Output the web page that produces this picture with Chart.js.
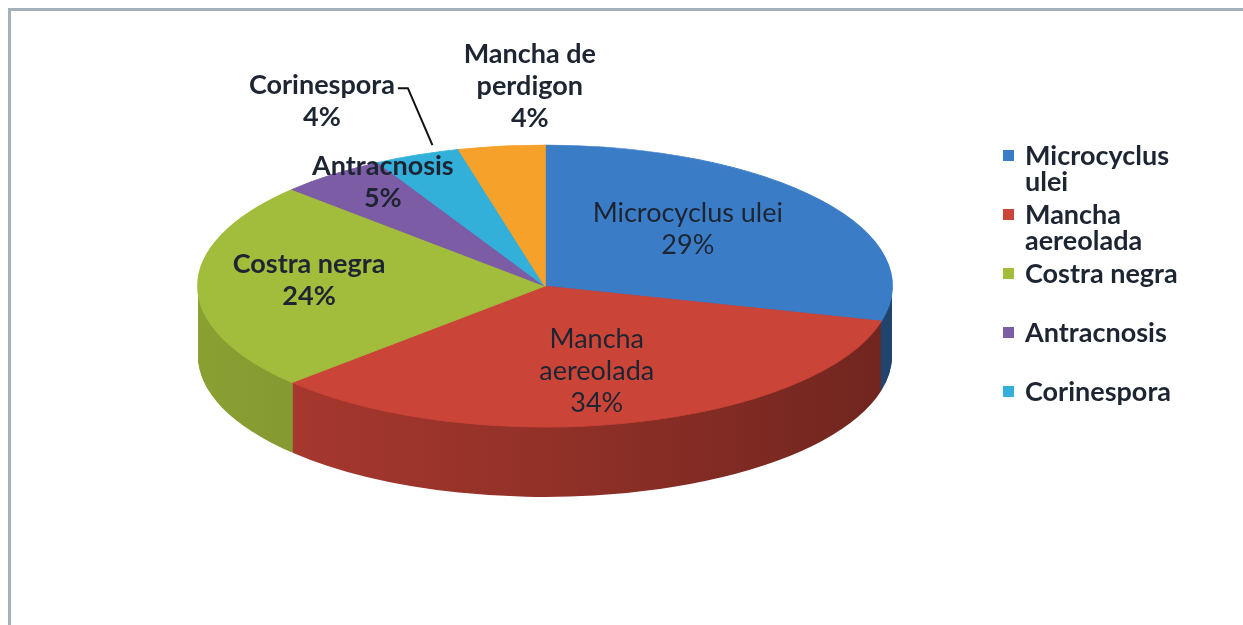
<!DOCTYPE html>
<html>
<head>
<meta charset="utf-8">
<title>Enfermedades</title>
<script src="https://cdn.jsdelivr.net/npm/chart.js"></script>
<style>
  html, body { margin: 0; padding: 0; background: #fff; }
  #wrap { position: relative; width: 1243px; height: 625px; overflow: hidden; }
  #frame { position: absolute; left: 8px; top: 8px; width: 1232px; height: 620px;
           border-left: 3px solid #a4b1b9; border-top: 3px solid #a4b1b9; border-right: 1px solid #f3e6e2; }
  #chart { position: absolute; left: 0; top: 0; }
  #legend { position: absolute; left: 1003px; top: 142px; margin: 0; padding: 0; list-style: none;
            font-family: Lato, "Open Sans", sans-serif; font-weight: bold; font-size: 27px; color: #1d2532; }
  #legend li { position: relative; height: 59px; width: 160px; line-height: 26px; padding-left: 22px; }
  #legend li .box { position: absolute; left: 0; top: 8px; width: 11px; height: 11px; }
</style>
</head>
<body>
<div id="wrap">
  <div id="frame"></div>
  <canvas id="chart" width="1243" height="625"></canvas>
  <ul id="legend"></ul>
</div>
<script>
// data
const labels = ['Microcyclus ulei', 'Mancha aereolada', 'Costra negra', 'Antracnosis', 'Corinespora', 'Mancha de perdigon'];
const labelLines = [['Microcyclus ulei'], ['Mancha', 'aereolada'], ['Costra negra'], ['Antracnosis'], ['Corinespora'], ['Mancha de', 'perdigon']];
const values = [29, 34, 24, 5, 4, 4];
const colors = ['#3b7cc7', '#cb4438', '#a2bc3c', '#7d5ca6', '#32b0da', '#f5a12a'];
const legendCount = 5; // the legend in the picture stops at Corinespora

// look of the 3d pie
const rx = 347, ry = 141, depth = 70;
// label placement: radius factor, nudge x/y, bold
const place = [
    { f: 0.55, dx: -8, dy: -9, bold: false },
    { f: 0.6, dx: 0, dy: 3, bold: false },
    { f: 0.68, dx: 0, dy: -6, bold: true },
    { f: 0.8, dx: 8, dy: -15, bold: true },
    { f: 1.41, dx: -43, dy: 0, bold: true, leader: true },
    { f: 1.43, dx: 47, dy: 0, bold: true }
];

function shade(hex, k) {
    let n = parseInt(hex.slice(1), 16);
    let r = (n >> 16) & 255, g = (n >> 8) & 255, b = n & 255;
    return 'rgb(' + Math.round(r * k) + ',' + Math.round(g * k) + ',' + Math.round(b * k) + ')';
}

function squash(ctx, a) {
    ctx.translate(a.x, a.y);
    ctx.scale(rx / a.outerRadius, ry / a.outerRadius);
    ctx.translate(-a.x, -a.y);
}

const pie3d = {
    id: 'pie3d',
    beforeDatasetsDraw(chart) {
        const ctx = chart.ctx;
        const arcs = chart.getDatasetMeta(0).data;
        const a0 = arcs[0];
        const R = a0.outerRadius;
        const fills = arcs.map((a, i) => {
            let g = ctx.createLinearGradient(a0.x - R, 0, a0.x + R, 0);
            g.addColorStop(0, shade(colors[i], 0.85));
            g.addColorStop(0.5, shade(colors[i], 0.72));
            g.addColorStop(1, shade(colors[i], 0.55));
            return g;
        });
        for (let d = depth; d >= 1; d--) {
            arcs.forEach((a, i) => {
                ctx.save();
                ctx.translate(0, d);
                squash(ctx, a);
                ctx.beginPath();
                ctx.moveTo(a.x, a.y);
                ctx.arc(a.x, a.y, R, a.startAngle, a.endAngle);
                ctx.closePath();
                ctx.fillStyle = fills[i];
                ctx.fill();
                ctx.restore();
            });
        }
    },
    beforeDatasetDraw(chart) {
        chart.ctx.save();
        squash(chart.ctx, chart.getDatasetMeta(0).data[0]);
    },
    afterDatasetDraw(chart) {
        chart.ctx.restore();
    },
    afterDatasetsDraw(chart) {
        const ctx = chart.ctx;
        const arcs = chart.getDatasetMeta(0).data;
        const total = values.reduce((s, v) => s + v, 0);
        ctx.save();
        ctx.textAlign = 'center';
        ctx.textBaseline = 'middle';
        ctx.fillStyle = '#1d2532';
        ctx.strokeStyle = '#111';
        ctx.lineWidth = 2;
        arcs.forEach((a, i) => {
            const p = place[i];
            const mid = (a.startAngle + a.endAngle) / 2;
            const x = a.x + p.f * rx * Math.cos(mid) + p.dx;
            const y = a.y + p.f * ry * Math.sin(mid) + p.dy;
            const lines = labelLines[i].concat([Math.round(values[i] / total * 100) + '%']);
            ctx.font = (p.bold ? 'bold ' : '') + '27px Lato, "Open Sans", sans-serif';
            const top = y - (lines.length - 1) * 32 / 2;
            lines.forEach((t, j) => ctx.fillText(t, x, top + j * 32));
            if (p.leader) {
                const w = ctx.measureText(lines[0]).width;
                const ang = a.startAngle + (a.endAngle - a.startAngle) * 0.75;
                ctx.beginPath();
                ctx.moveTo(x + w / 2 + 3, top + 3);
                ctx.lineTo(x + w / 2 + 13, top + 3);
                ctx.lineTo(a.x + 1.05 * rx * Math.cos(ang), a.y + 1.05 * ry * Math.sin(ang));
                ctx.stroke();
            }
        });
        ctx.restore();
    }
};

new Chart(document.getElementById('chart'), {
    type: 'pie',
    data: {
        labels: labels,
        datasets: [{
            data: values,
            backgroundColor: colors,
            borderColor: colors,
            borderWidth: 1
        }]
    },
    options: {
        responsive: false,
        animation: false,
        layout: { padding: { left: 345, right: 498, top: 86, bottom: 139 } },
        plugins: {
            legend: { display: false },
            tooltip: { enabled: false }
        }
    },
    plugins: [pie3d]
});

// legend like the one in the picture
let r = '';
for (let i = 0; i < legendCount; i++) {
    r += '<li><span class="box" style="background:' + colors[i] + '"></span>' + labels[i] + '</li>';
}
document.getElementById('legend').innerHTML = r;
</script>
</body>
</html>
